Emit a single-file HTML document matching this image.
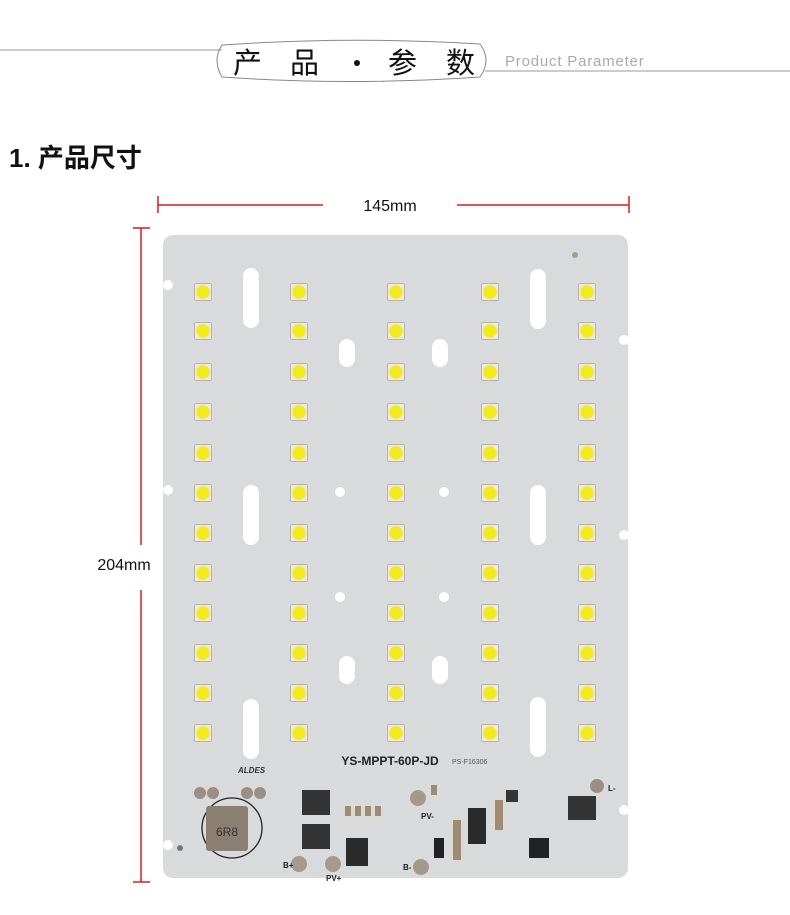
<!DOCTYPE html>
<html><head><meta charset="utf-8"><style>
html,body{margin:0;padding:0;background:#fff;width:790px;height:915px;overflow:hidden;font-family:"Liberation Sans","Noto Sans CJK SC",sans-serif}
.a{position:absolute}
</style></head><body>
<svg class="a" style="left:0;top:0" width="790" height="915" viewBox="0 0 790 915">
<defs>
<g id="led"><rect x="-9" y="-9" width="18" height="18" rx="2" fill="#b9b2a6"/><rect x="-8" y="-8" width="16" height="16" fill="#ebe9e3"/><circle r="6.8" fill="#f2ea1c"/></g>
<g id="slot"><rect x="-8" y="-30" width="16" height="60" rx="8" fill="#fff"/></g>
<g id="oval"><rect x="-8" y="-14" width="16" height="28" rx="8" fill="#fff"/></g>
<g id="col">
<use href="#led" x="0" y="292"/><use href="#led" x="0" y="331"/><use href="#led" x="0" y="372"/><use href="#led" x="0" y="412"/><use href="#led" x="0" y="453"/><use href="#led" x="0" y="493"/><use href="#led" x="0" y="533"/><use href="#led" x="0" y="573"/><use href="#led" x="0" y="613"/><use href="#led" x="0" y="653"/><use href="#led" x="0" y="693"/><use href="#led" x="0" y="733"/>
</g>
</defs>
<!-- header -->
<line x1="0" y1="50" x2="222" y2="50" stroke="#999" stroke-width="1"/>
<line x1="485" y1="71" x2="790" y2="71" stroke="#999" stroke-width="1"/>
<path d="M222 45 Q350 36 480 44 Q492 60 480 77 Q350 86 222 77 Q212 60 222 45Z" fill="none" stroke="#888" stroke-width="1"/>
<text x="233" y="73" font-size="29" fill="#111" font-family="Noto Sans CJK SC,sans-serif">产</text>
<text x="290" y="73" font-size="29" fill="#111" font-family="Noto Sans CJK SC,sans-serif">品</text>
<circle cx="357" cy="63" r="3" fill="#111"/>
<text x="388" y="73" font-size="29" fill="#111" font-family="Noto Sans CJK SC,sans-serif">参</text>
<text x="446" y="73" font-size="29" fill="#111" font-family="Noto Sans CJK SC,sans-serif">数</text>
<text x="505" y="66" font-size="15" fill="#aaa" letter-spacing="0.8">Product Parameter</text>
<text x="9" y="167" font-size="26" font-weight="bold" fill="#111" font-family="Liberation Sans,Noto Sans CJK SC,sans-serif">1. 产品尺寸</text>
<!-- dims -->
<g stroke="#d61f1f" stroke-width="1.5">
<line x1="158" y1="205" x2="323" y2="205"/><line x1="457" y1="205" x2="629" y2="205"/>
<line x1="158" y1="196" x2="158" y2="213"/><line x1="629" y1="196" x2="629" y2="213"/>
<line x1="141" y1="228" x2="141" y2="545"/><line x1="141" y1="590" x2="141" y2="882"/>
<line x1="133" y1="228" x2="150" y2="228"/><line x1="133" y1="882" x2="150" y2="882"/>
</g>
<text x="390" y="211" font-size="16" text-anchor="middle" fill="#111">145mm</text>
<text x="124" y="570" font-size="16" text-anchor="middle" fill="#111">204mm</text>
<!-- board -->
<rect x="163" y="235" width="465" height="643" rx="10" fill="#d9dadc"/>
<circle cx="168" cy="285" r="5" fill="#fff"/><circle cx="168" cy="490" r="5" fill="#fff"/><circle cx="168" cy="845" r="5" fill="#fff"/>
<circle cx="624" cy="340" r="5" fill="#fff"/><circle cx="624" cy="535" r="5" fill="#fff"/><circle cx="624" cy="810" r="5" fill="#fff"/>
<circle cx="575" cy="255" r="3" fill="#a89a88"/>
<use href="#slot" x="251" y="298"/><use href="#slot" x="251" y="515"/><use href="#slot" x="251" y="729"/>
<use href="#slot" x="538" y="299"/><use href="#slot" x="538" y="515"/><use href="#slot" x="538" y="727"/>
<use href="#oval" x="347" y="353"/><use href="#oval" x="440" y="353"/><use href="#oval" x="347" y="670"/><use href="#oval" x="440" y="670"/>
<circle cx="340" cy="492" r="5" fill="#fff"/><circle cx="444" cy="492" r="5" fill="#fff"/><circle cx="340" cy="597" r="5" fill="#fff"/><circle cx="444" cy="597" r="5" fill="#fff"/>
<use href="#col" x="203"/><use href="#col" x="299"/><use href="#col" x="396"/><use href="#col" x="490"/><use href="#col" x="587"/>
<!-- electronics -->
<text x="390" y="765" font-size="12" font-weight="bold" text-anchor="middle" fill="#222">YS-MPPT-60P-JD</text>
<text x="452" y="764" font-size="7" fill="#555">PS-F16306</text>
<text x="238" y="773" font-size="8" font-style="italic" font-weight="bold" fill="#333">ALDES</text>
<circle cx="200" cy="793" r="6" fill="#9a8f82"/><circle cx="213" cy="793" r="6" fill="#9a8f82"/><circle cx="247" cy="793" r="6" fill="#9a8f82"/><circle cx="260" cy="793" r="6" fill="#9a8f82"/>
<circle cx="232" cy="828" r="30" fill="none" stroke="#222" stroke-width="1.3"/>
<rect x="206" y="806" width="42" height="45" rx="3" fill="#8a7f70"/>
<text x="227" y="836" font-size="12" text-anchor="middle" fill="#333">6R8</text>
<circle cx="180" cy="848" r="3" fill="#777"/>
<circle cx="299" cy="864" r="8" fill="#a49a8c"/><circle cx="333" cy="864" r="8" fill="#a49a8c"/><circle cx="421" cy="867" r="8" fill="#a49a8c"/><circle cx="418" cy="798" r="8" fill="#a49a8c"/><circle cx="597" cy="786" r="7" fill="#9a8f82"/>
<text x="283" y="868" font-size="8" font-weight="bold" fill="#222">B+</text>
<text x="326" y="881" font-size="8" font-weight="bold" fill="#222">PV+</text>
<text x="403" y="870" font-size="8" font-weight="bold" fill="#222">B-</text>
<text x="421" y="819" font-size="8" font-weight="bold" fill="#222">PV-</text>
<text x="608" y="791" font-size="8" font-weight="bold" fill="#222">L-</text>
<rect x="302" y="790" width="28" height="25" fill="#333"/><rect x="302" y="824" width="28" height="25" fill="#333"/>
<rect x="346" y="838" width="22" height="28" fill="#2a2a2a"/>
<rect x="468" y="808" width="18" height="36" fill="#2a2a2a"/>
<rect x="568" y="796" width="28" height="24" fill="#333"/>
<rect x="529" y="838" width="20" height="20" fill="#222"/>
<rect x="434" y="838" width="10" height="20" fill="#222"/>
<rect x="506" y="790" width="12" height="12" fill="#333"/>
<g fill="#a08a70"><rect x="345" y="806" width="6" height="10"/><rect x="355" y="806" width="6" height="10"/><rect x="365" y="806" width="6" height="10"/><rect x="375" y="806" width="6" height="10"/><rect x="453" y="820" width="8" height="40"/><rect x="431" y="785" width="6" height="10"/><rect x="495" y="800" width="8" height="30"/></g>
</svg>
</body></html>
